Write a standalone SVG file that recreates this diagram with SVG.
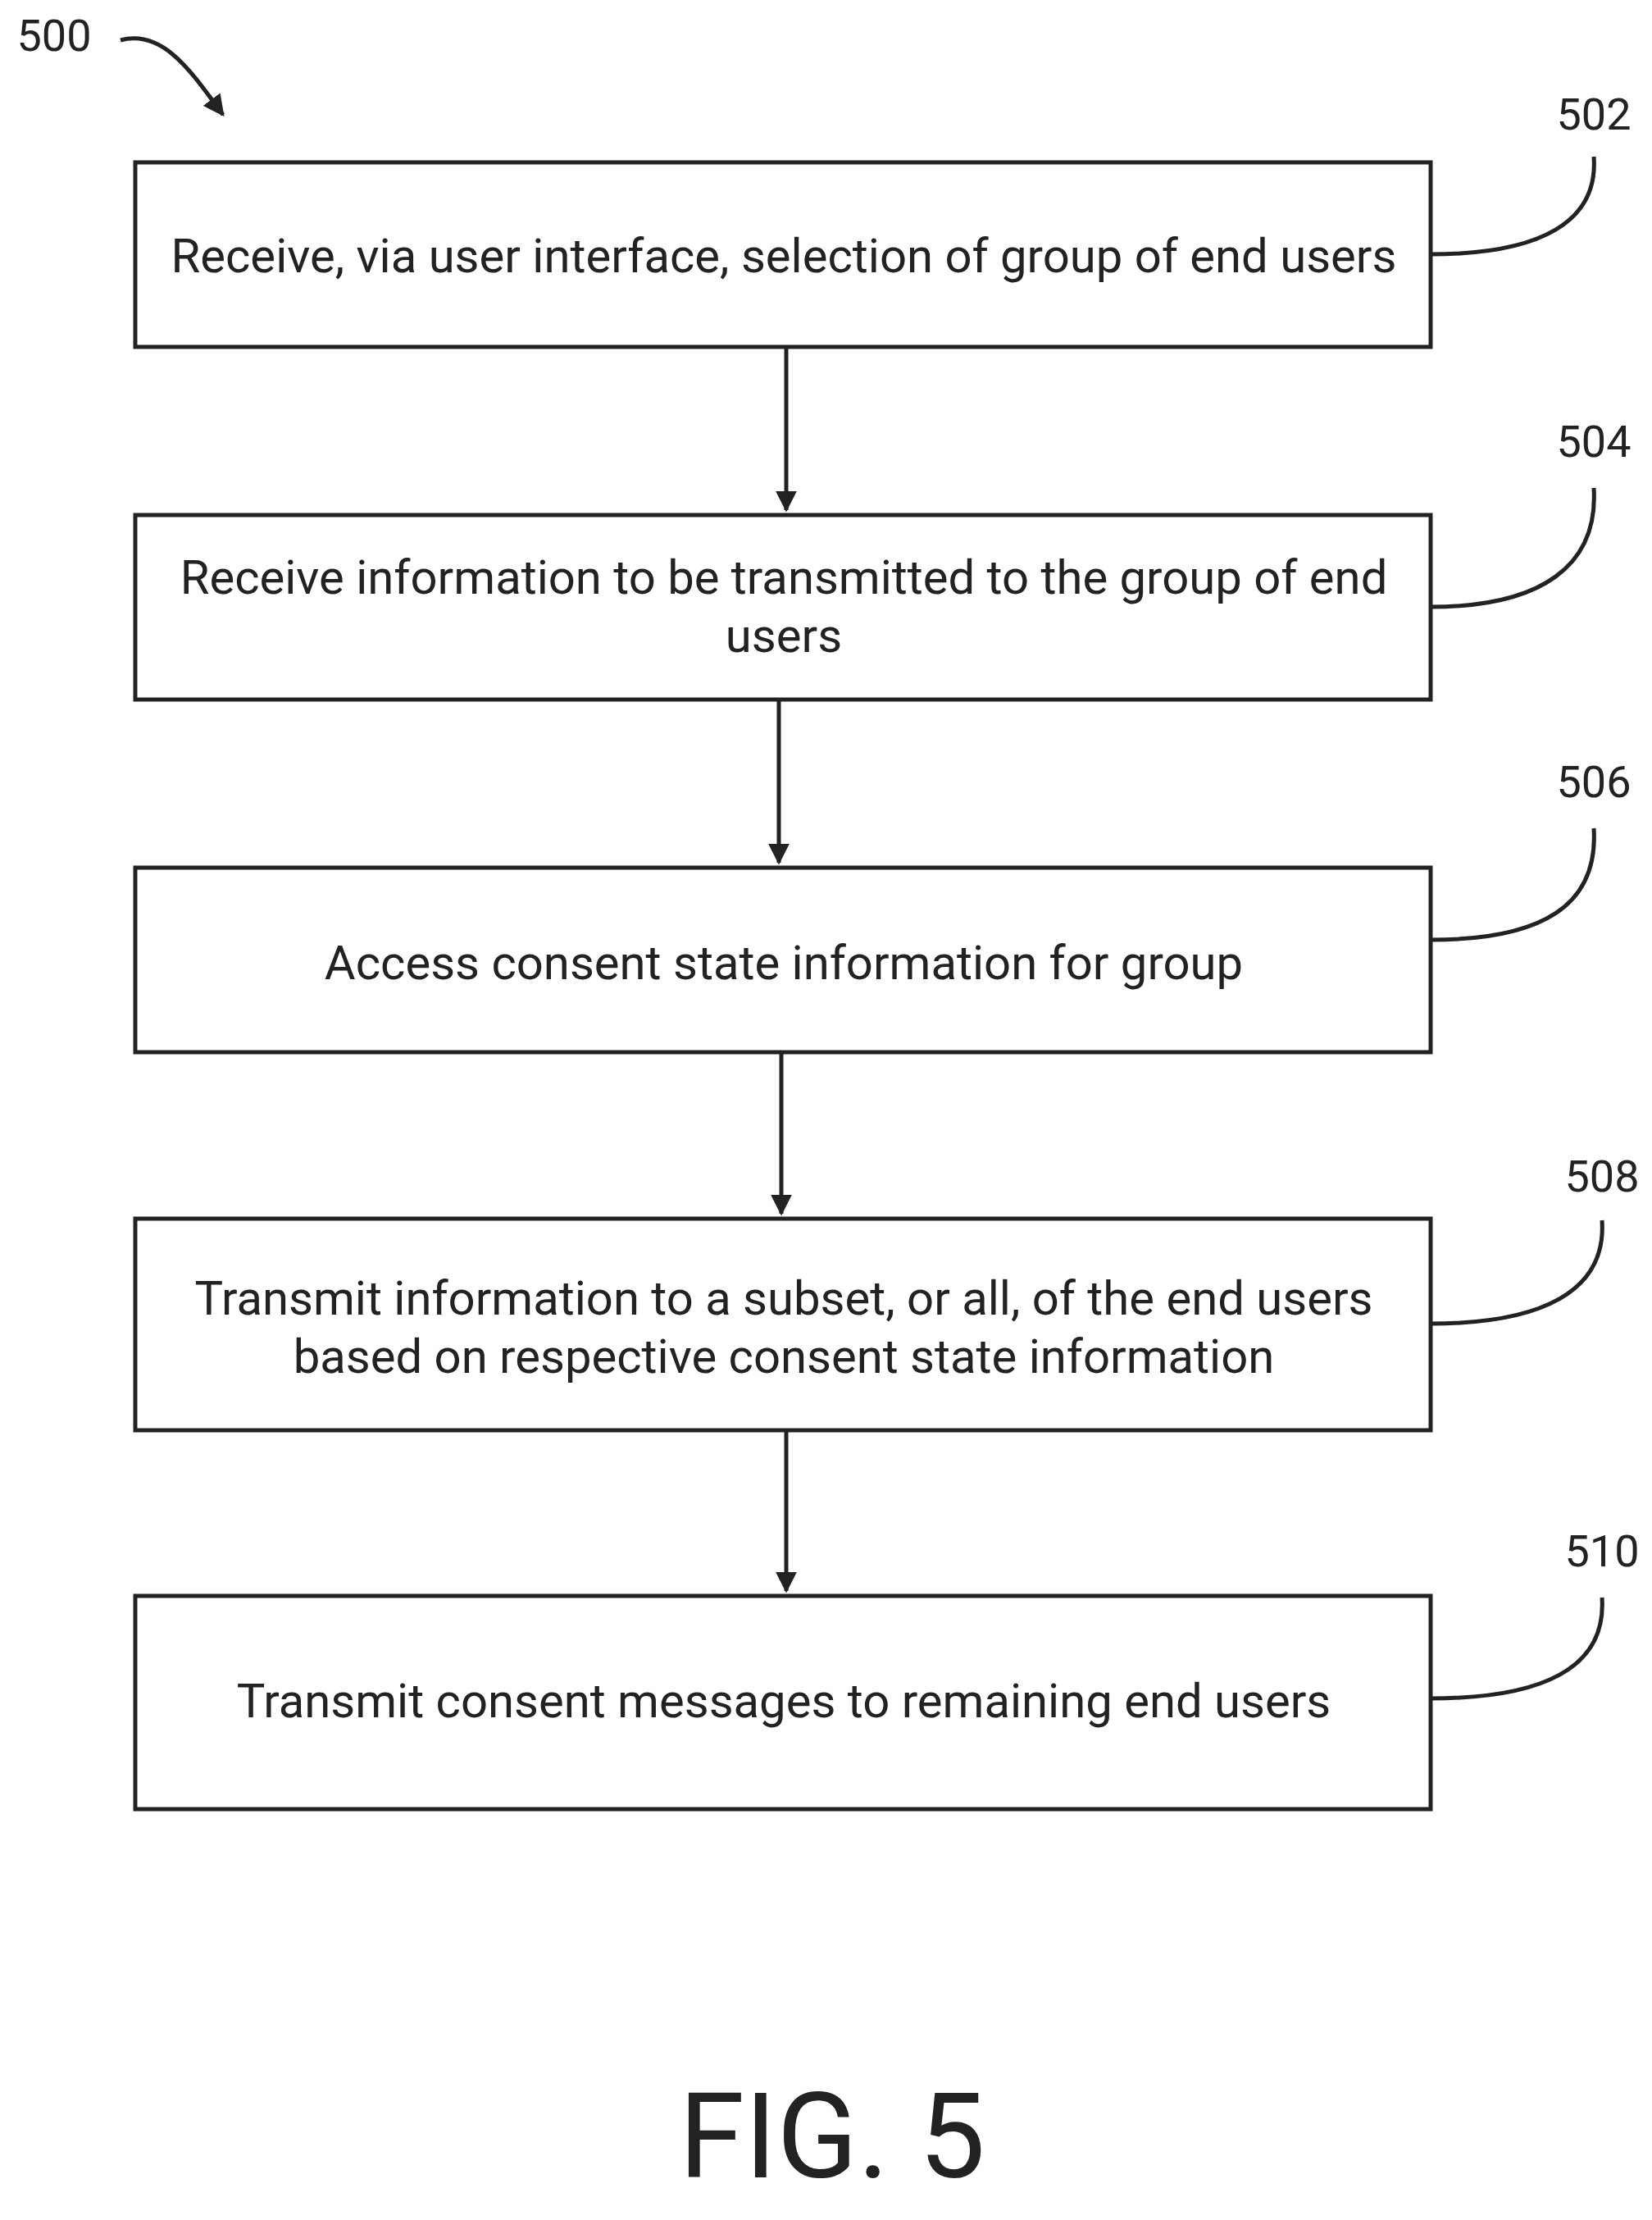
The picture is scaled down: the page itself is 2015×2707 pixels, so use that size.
<svg xmlns="http://www.w3.org/2000/svg" width="2015" height="2707" viewBox="0 0 2015 2707">
<defs>
<style>
.box{fill:#fff;stroke:#222;stroke-width:5}
.t{font-family:Roboto,"Liberation Sans",sans-serif;font-size:58px;fill:#222;text-anchor:middle}
.lb{font-family:Roboto,"Liberation Sans",sans-serif;font-size:54px;fill:#222;text-anchor:middle}
.ln{fill:none;stroke:#222;stroke-width:5}
</style>
<marker id="a" viewBox="0 0 10 10" refX="9" refY="5" markerWidth="26" markerHeight="26" markerUnits="userSpaceOnUse" orient="auto"><path d="M0,0 L10,5 L0,10 z" fill="#222"/></marker>
</defs>
<rect width="2015" height="2707" fill="#fff"/>
<g id="n500"><text class="lb" x="66" y="62">500</text><path class="ln" d="M147,49 C200,35 235,90 272,140" marker-end="url(#a)"/></g>
<g id="n502"><rect class="box" x="165" y="198" width="1580" height="225"/><text class="t" x="956" y="332">Receive, via user interface, selection of group of end users</text><text class="lb" x="1944" y="158">502</text><path class="ln" d="M1745,310 C1880,310 1950,270 1944,191"/></g>
<g id="n504"><rect class="box" x="165" y="628" width="1580" height="225"/><text class="t" x="956" y="724">Receive information to be transmitted to the group of end</text><text class="t" x="956" y="795">users</text><text class="lb" x="1944" y="557">504</text><path class="ln" d="M1745,740 C1880,740 1950,690 1944,595"/></g>
<g id="n506"><rect class="box" x="165" y="1058" width="1580" height="225"/><text class="t" x="956" y="1194">Access consent state information for group</text><text class="lb" x="1944" y="972">506</text><path class="ln" d="M1745,1146 C1880,1146 1950,1105 1944,1010"/></g>
<g id="n508"><rect class="box" x="165" y="1486" width="1580" height="258"/><text class="t" x="956" y="1603">Transmit information to a subset, or all, of the end users</text><text class="t" x="956" y="1674">based on respective consent state information</text><text class="lb" x="1954" y="1453">508</text><path class="ln" d="M1745,1614 C1880,1614 1960,1575 1954,1488"/></g>
<g id="n510"><rect class="box" x="165" y="1946" width="1580" height="260"/><text class="t" x="956" y="2094">Transmit consent messages to remaining end users</text><text class="lb" x="1954" y="1910">510</text><path class="ln" d="M1745,2071 C1880,2071 1960,2035 1954,1948"/></g>
<g id="connectors">
<path class="ln" d="M959,423 V622" marker-end="url(#a)"/>
<path class="ln" d="M950,853 V1052" marker-end="url(#a)"/>
<path class="ln" d="M953,1283 V1480" marker-end="url(#a)"/>
<path class="ln" d="M959,1744 V1940" marker-end="url(#a)"/>
</g>
<text x="1015" y="2655" font-family="Roboto,'Liberation Sans',sans-serif" font-size="145" fill="#222" text-anchor="middle">FIG. 5</text>
</svg>
